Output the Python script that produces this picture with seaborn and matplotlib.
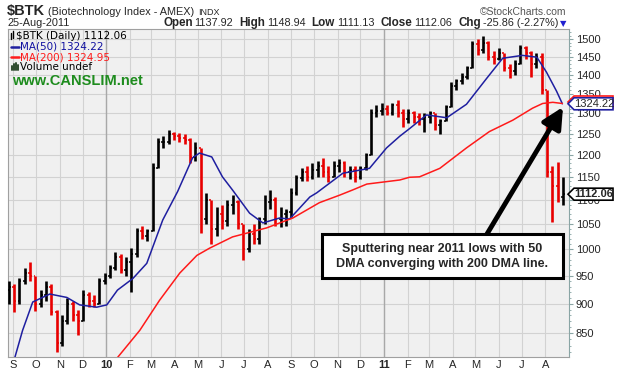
import numpy as np
import pandas as pd
import matplotlib
matplotlib.use('Agg')
import matplotlib.pyplot as plt
from matplotlib.patches import Polygon, Rectangle
from matplotlib.lines import Line2D
from matplotlib.ticker import NullFormatter, FixedLocator
import seaborn as sns

# one bar per week (mid-week date)
weeks = pd.date_range('2009-08-26', periods=105, freq='7D')
high = [940, 935, 945, 965, 975, 950, 925, 940, 935, 890,
        880, 910, 905, 890, 925, 920, 915, 945, 955, 970,
        994, 990, 985, 1002, 1042, 1045, 1040, 1180, 1240, 1245,
        1259, 1255, 1252, 1250, 1240, 1230, 1215, 1115, 1100, 1085,
        1090, 1100, 1111, 1100, 1050, 1040, 1050, 1065, 1110, 1121,
        1105, 1085, 1080, 1125, 1155, 1170, 1175, 1180, 1185, 1193,
        1175, 1185, 1190, 1185, 1175, 1175, 1175, 1205, 1310, 1320,
        1325, 1320, 1325, 1334, 1310, 1310, 1305, 1300, 1300, 1305,
        1300, 1285, 1321, 1380, 1390, 1405, 1425, 1495, 1500, 1509,
        1495, 1465, 1475, 1460, 1430, 1440, 1483, 1480, 1465, 1460,
        1460, 1360, 1175, 1183, 1148.94]
low = [900, 885, 900, 935, 940, 888, 895, 905, 880, 820,
       830, 865, 870, 847, 870, 895, 894, 900, 935, 945,
       960, 955, 950, 920, 985, 1020, 1015, 1035, 1170, 1215,
       1225, 1235, 1230, 1225, 1181, 1185, 1032, 1050, 1011, 1025,
       1040, 1045, 1070, 1040, 979, 995, 1010, 1010, 1050, 1080,
       1045, 1043, 1045, 1065, 1110, 1140, 1140, 1145, 1150, 1150,
       1138, 1150, 1160, 1150, 1145, 1139, 1145, 1165, 1200, 1290,
       1295, 1295, 1295, 1290, 1266, 1275, 1275, 1270, 1255, 1275,
       1260, 1248, 1280, 1315, 1360, 1375, 1390, 1420, 1455, 1460,
       1440, 1430, 1440, 1410, 1392, 1400, 1430, 1445, 1395, 1420,
       1350, 1150, 1054, 1095, 1090]
close = [930, 905, 940, 955, 950, 900, 915, 930, 885, 835,
         870, 900, 880, 870, 915, 905, 900, 940, 950, 965,
         985, 960, 975, 990, 1035, 1025, 1035, 1170, 1230, 1230,
         1250, 1245, 1240, 1235, 1195, 1215, 1060, 1100, 1040, 1070,
         1055, 1090, 1095, 1050, 1000, 1030, 1020, 1060, 1095, 1100,
         1060, 1070, 1075, 1115, 1148, 1160, 1150, 1165, 1175, 1160,
         1150, 1175, 1180, 1160, 1165, 1150, 1170, 1200, 1300, 1305,
         1310, 1300, 1320, 1300, 1285, 1300, 1290, 1285, 1290, 1300,
         1270, 1280, 1315, 1370, 1385, 1395, 1420, 1485, 1470, 1490,
         1450, 1445, 1460, 1420, 1410, 1430, 1475, 1460, 1430, 1450,
         1360, 1160, 1130, 1105, 1112.06]
first_open = 925

# moving averages, sampled at (fractional) week numbers
ma50_week = [1.1, 2.6, 4.5, 7.7, 10.9, 13.3, 16.5, 18.4, 20.4, 23.3,
             25.9, 28.9, 31.7, 34.5, 35.8, 38.1, 40.1, 42.0, 45.2, 47.7,
             50.8, 52.7, 56.5, 57.8, 62.7, 67.7, 70.9, 73.4, 75.2, 78.4,
             82.2, 85.9, 89.7, 92.7, 96.4, 99.1, 100.9, 102.8, 103.9]
ma50 = [810, 855, 903, 917, 911, 898, 894, 898, 924, 945,
        973, 1058, 1118, 1193, 1204, 1195, 1150, 1121, 1072, 1052,
        1062, 1060, 1106, 1115, 1158, 1169, 1216, 1244, 1262, 1296,
        1289, 1323, 1391, 1446, 1454, 1449, 1408, 1357, 1324.22]
ma200_week = [19.8, 24.6, 28.3, 32.1, 35.3, 37.7, 42.0, 48.4, 53.3, 58.3,
              62.1, 64.5, 67.2, 73.4, 75.2, 77.1, 80.9, 85.9, 90.2, 94.6,
              98.3, 100.2, 102.1, 103.9]
ma200 = [805, 855, 906, 955, 988, 1002, 1024, 1042, 1062, 1094,
         1110, 1121, 1134, 1143, 1149, 1150, 1169, 1216, 1255, 1283,
         1313, 1325, 1328, 1324.95]

price_ticks = list(range(850, 1501, 50))
months = pd.date_range('2009-09-01', '2011-08-01', freq='MS')
month_labels = ['S', 'O', 'N', 'D', '10', 'F', 'M', 'A', 'M', 'J', 'J', 'A',
                'S', 'O', 'N', 'D', '11', 'F', 'M', 'A', 'M', 'J', 'J', 'A']

W, H = 617, 375
sns.set_style('white')
plt.rcParams['font.family'] = ['Liberation Sans', 'DejaVu Sans']


def fx(x):
    return x / W


def fy(y):
    return 1 - y / H


fig = plt.figure(figsize=(W / 100, H / 100), dpi=100)
ax = fig.add_axes([fx(8), fy(357), 561 / W, 328 / H])
ax.set_facecolor('#f0f0f0')

opens = [first_open] + close[:-1]
cols = ['black' if c >= o else '#e80000' for c, o in zip(close, opens)]
tick = pd.Timedelta(days=2.5)
ax.vlines(weeks, low, high, colors=cols, lw=1.9, zorder=3)
ax.hlines(opens, weeks - tick, weeks, colors=cols, lw=1.1, zorder=3)
ax.hlines(close, weeks, weeks + tick, colors=cols, lw=1.1, zorder=3)

ma50_dates = weeks[0] + pd.to_timedelta(np.array(ma50_week) * 7, unit='D')
ma200_dates = weeks[0] + pd.to_timedelta(np.array(ma200_week) * 7, unit='D')
sns.lineplot(x=ma50_dates, y=ma50, color='#1f1fa0', lw=1.1, ax=ax, zorder=4)
sns.lineplot(x=ma200_dates, y=ma200, color='#ff1a1a', lw=1.1, ax=ax, zorder=4)

ax.set_yscale('log')
ax.set_ylim(812, 1530)
ax.set_xlim(pd.Timestamp('2009-08-25'), pd.Timestamp('2011-09-01'))
ax.set_yticks(price_ticks, labels=[str(v) for v in price_ticks])
ax.yaxis.set_minor_locator(FixedLocator(range(820, 1530, 10)))
ax.yaxis.set_minor_formatter(NullFormatter())
ax.yaxis.tick_right()
ax.tick_params(axis='y', which='major', labelsize=8, length=3, color='#8aa5a5', pad=2)
ax.tick_params(axis='y', which='minor', length=1.5, color='#8aa5a5')
ax.set_xticks(months, labels=month_labels)
ax.tick_params(axis='x', length=0, labelsize=8, pad=2)
for t in ax.get_xticklabels():
    if t.get_text() in ('10', '11'):
        t.set_fontweight('bold')
ax.grid(True, which='major', color='#d2d2d2', lw=0.8, zorder=0)
for yr in ['2010-01-01', '2011-01-01']:
    ax.axvline(pd.Timestamp(yr), color='#a8a8a8', lw=1, zorder=1)
for s in ax.spines.values():
    s.set_color('#a0a0a0')
    s.set_linewidth(0.8)
ax.spines['right'].set_color('#8aa5a5')
ax.set_xlabel('')
ax.set_ylabel('')

# header
renderer = fig.canvas.get_renderer()


def put(x, y, s, **kw):
    t = fig.text(fx(x), fy(y), s, va='baseline', **kw)
    return t.get_window_extent(renderer).x1


x = put(7, 15, '$BTK', fontsize=10.5, fontweight='bold')
x = put(x + 3, 15, '(Biotechnology Index - AMEX)', fontsize=7.8)
put(x + 4, 15, 'INDX', fontsize=6.5)
fig.text(fx(566), fy(15), '\u00a9StockCharts.com', fontsize=7.5, color='#555555',
         ha='right', va='baseline')
put(8, 26, '25-Aug-2011', fontsize=7.8)
x = 163
for lab, val in [('Open', '1137.92'), ('High', '1148.94'), ('Low', '1111.13'),
                 ('Close', '1112.06'), ('Chg', '-25.86 (-2.27%)')]:
    x = put(x, 26, lab, fontsize=8.4, fontweight='bold')
    x = put(x + 2, 26, val, fontsize=7.8) + 6
fig.text(fx(x - 4), fy(26), '\u25bc', fontsize=6, color='#2020d0', va='baseline',
         family='DejaVu Sans')

# legend inside the plot
lg = dict(fontsize=7.5, family='DejaVu Sans', va='center')
fig.text(fx(16), fy(36), '$BTK (Daily) 1112.06', color='black', **lg)
for xx, y0, y1 in [(11, 33, 39), (13, 31, 38)]:
    fig.add_artist(Line2D([fx(xx), fx(xx)], [fy(y0), fy(y1)], color='black', lw=1,
                          transform=fig.transFigure))
fig.add_artist(Line2D([fx(11), fx(19)], [fy(46.5), fy(46.5)], color='#1f1fa0', lw=1.8,
                      transform=fig.transFigure))
fig.text(fx(20), fy(46.5), 'MA(50) 1324.22', color='#1010a0', **lg)
fig.add_artist(Line2D([fx(11), fx(19)], [fy(57), fy(57)], color='#ff1a1a', lw=1.8,
                      transform=fig.transFigure))
fig.text(fx(20), fy(57), 'MA(200) 1324.95', color='#ff1a1a', **lg)
for i, hgt in enumerate([4, 6, 7, 5]):
    fig.add_artist(Line2D([fx(12 + 2 * i), fx(12 + 2 * i)], [fy(70), fy(70 - hgt)],
                          color='#2d4a2d', lw=1.4, transform=fig.transFigure))
fig.text(fx(20), fy(67), 'Volume undef', color='black', **lg)
fig.text(fx(12), fy(81), 'www.CANSLIM.net', color='#1e8c1e', fontsize=10.5,
         fontweight='bold', va='center')


# price tags on the right axis
def price_tag(value, edge, dy=0, text=None, bold=False):
    yd = ax.transData.transform((0, value))[1] + dy
    x0 = ax.transAxes.transform((1, 0))[0]
    pts = [(x0 - 1, yd), (x0 + 5, yd + 6), (x0 + 44, yd + 6), (x0 + 44, yd - 6),
           (x0 + 5, yd - 6)]
    fig.add_artist(Polygon([(px / W, py / H) for px, py in pts], closed=True,
                           transform=fig.transFigure, fc='white', ec=edge, lw=1.2,
                           zorder=10))
    if text:
        fig.text((x0 + 25) / W, yd / H, text, ha='center', va='center', fontsize=8,
                 fontweight='bold' if bold else 'normal', zorder=11)


# the MA(200) tag sits just under the MA(50) one, only its red edge shows
price_tag(1324.95, '#ff1a1a', dy=1.5)
price_tag(1324.22, '#1f1fa0', text='1324.22')
price_tag(1112.06, 'black', text='1112.06', bold=True)

# comment box and arrow
fig.add_artist(Rectangle((fx(322), fy(278)), 241 / W, 44 / H, transform=fig.transFigure,
                         fc='white', ec='black', lw=2.2, zorder=8))
fig.text(fx(442.5), fy(249), 'Sputtering near 2011 lows with 50', ha='center',
         va='center', fontsize=9, fontweight='bold', zorder=9)
fig.text(fx(442.5), fy(264.5), 'DMA converging with 200 DMA line.', ha='center',
         va='center', fontsize=9, fontweight='bold', zorder=9)
ax.annotate('', xy=(fx(563), fy(107)), xytext=(fx(487), fy(234)),
            xycoords='figure fraction', textcoords='figure fraction',
            arrowprops=dict(arrowstyle='-|>,head_length=0.7,head_width=0.35',
                            mutation_scale=18, lw=3.5, color='black',
                            shrinkA=0, shrinkB=0), zorder=7)

fig.savefig('out.png', dpi=100, facecolor='white')
